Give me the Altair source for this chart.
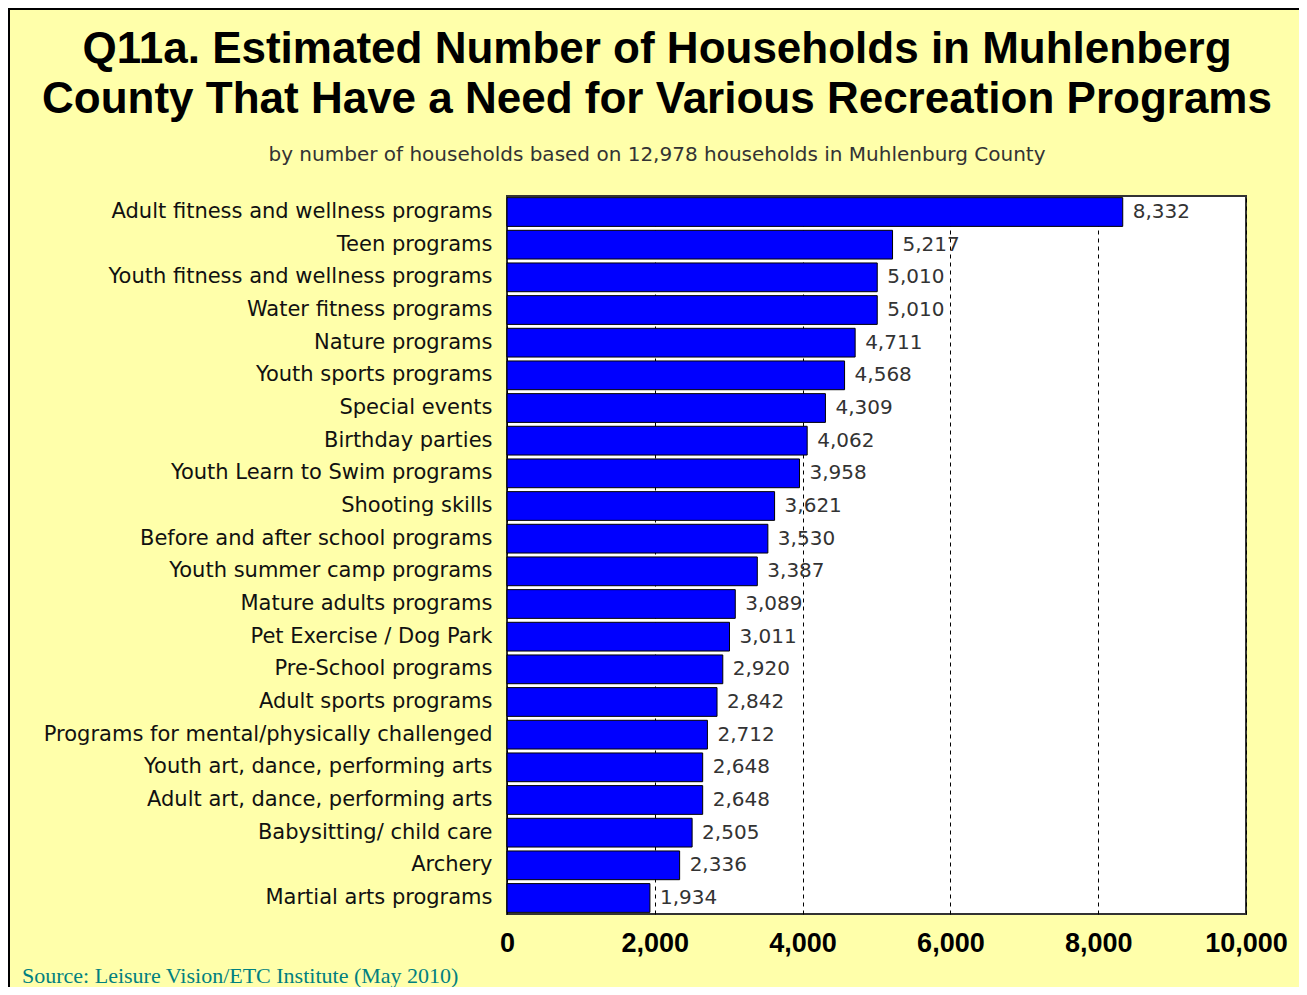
import altair as alt
import pandas as pd

programs = [
    "Adult fitness and wellness programs",
    "Teen programs",
    "Youth fitness and wellness programs",
    "Water fitness programs",
    "Nature programs",
    "Youth sports programs",
    "Special events",
    "Birthday parties",
    "Youth Learn to Swim programs",
    "Shooting skills",
    "Before and after school programs",
    "Youth summer camp programs",
    "Mature adults programs",
    "Pet Exercise / Dog Park",
    "Pre-School programs",
    "Adult sports programs",
    "Programs for mental/physically challenged",
    "Youth art, dance, performing arts",
    "Adult art, dance, performing arts",
    "Babysitting/ child care",
    "Archery",
    "Martial arts programs",
]
households = [8332, 5217, 5010, 5010, 4711, 4568, 4309, 4062, 3958, 3621, 3530,
              3387, 3089, 3011, 2920, 2842, 2712, 2648, 2648, 2505, 2336, 1934]
x_ticks = [0, 2000, 4000, 6000, 8000, 10000]

title_lines = ["Q11a. Estimated Number of Households in Muhlenberg",
               "County That Have a Need for Various Recreation Programs"]
subtitle = "by number of households based on 12,978 households in Muhlenburg County"
source = "Source:  Leisure Vision/ETC Institute (May 2010)"

df = pd.DataFrame({"program": programs, "households": households})

W, H = 739, 718

y_enc = alt.Y("program:N", sort=programs, title=None,
              scale=alt.Scale(paddingInner=0.12, paddingOuter=0.05),
              axis=alt.Axis(labelFontSize=21, labelColor="#111111", labelFont="DejaVu Sans",
                            ticks=False, domain=False, labelPadding=15, labelLimit=500))
x_enc = alt.X("households:Q", title=None,
              scale=alt.Scale(domain=[0, 10000], nice=False),
              axis=alt.Axis(values=x_ticks, format=",.0f", labelFontSize=27, labelFontWeight="bold",
                            labelColor="#000000", labelFont="Liberation Sans",
                            ticks=False, domain=False, labelPadding=16,
                            grid=True, gridColor="#000000", gridDash=[4, 4], gridWidth=1,
                            labelFlush=False))

bars = alt.Chart(df).mark_bar(color="#0000FF", stroke="#000000", strokeWidth=1).encode(
    x=x_enc, y=y_enc)

labels = alt.Chart(df).mark_text(align="left", baseline="middle", dx=10, fontSize=20,
                                 font="DejaVu Sans", color="#333333").encode(
    x="households:Q", y=alt.Y("program:N", sort=programs),
    text=alt.Text("households:Q", format=",.0f"))

title1 = alt.Chart(pd.DataFrame({"t": [title_lines[0]]})).mark_text(
    align="center", baseline="alphabetic", fontSize=44, fontWeight="bold",
    font="Liberation Sans", color="#000000").encode(
    text="t:N", x=alt.value(150), y=alt.value(-133))
title2 = alt.Chart(pd.DataFrame({"t": [title_lines[1]]})).mark_text(
    align="center", baseline="alphabetic", fontSize=44, fontWeight="bold",
    font="Liberation Sans", color="#000000").encode(
    text="t:N", x=alt.value(150), y=alt.value(-83))
sub = alt.Chart(pd.DataFrame({"t": [subtitle]})).mark_text(
    align="center", baseline="alphabetic", fontSize=20,
    font="DejaVu Sans", color="#333333").encode(
    text="t:N", x=alt.value(150), y=alt.value(-35))

src = alt.Chart(pd.DataFrame({"t": [source]})).mark_text(
    align="left", baseline="alphabetic", fontSize=22, font="Liberation Serif", color="#008080").encode(
    text="t:N", x=alt.value(-485), y=alt.value(H + 69))

frame = alt.Chart(pd.DataFrame({"t": [0]})).mark_rect(fill=None, stroke="#000000", strokeWidth=2).encode(
    x=alt.value(-498), x2=alt.value(W + 300), y=alt.value(-187), y2=alt.value(H + 300))

chart = alt.layer(bars, labels, title1, title2, sub, src, frame).properties(
    width=W, height=H,
    autosize=alt.AutoSizeParams(type="none"),
    padding={"left": 499, "top": 188, "right": 53, "bottom": 73},
    background="#FFFFAA",
).configure_view(fill="#FFFFFF", stroke="#333333", strokeWidth=2)

chart.save("out.html", embed_options={"renderer": "svg", "actions": False})
